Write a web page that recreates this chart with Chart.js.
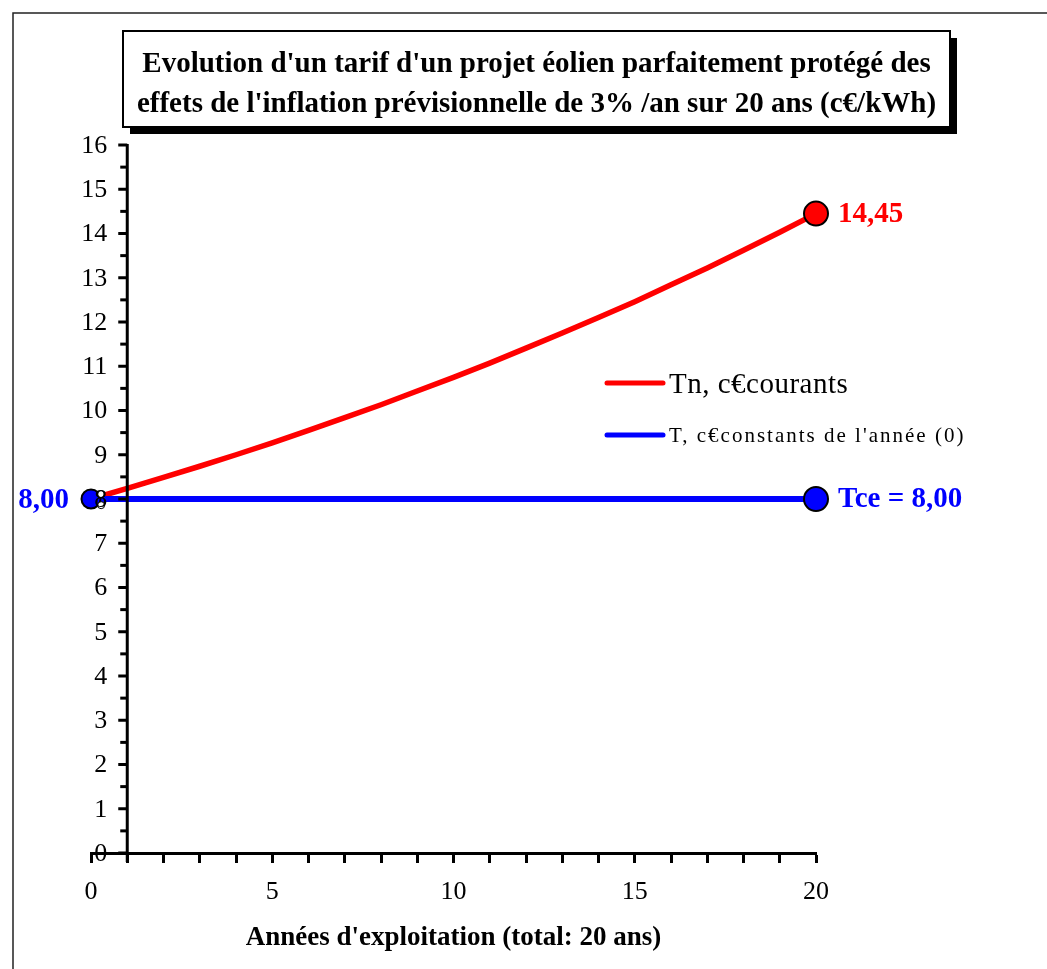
<!DOCTYPE html>
<html lang="fr">
<head>
<meta charset="utf-8">
<title>Evolution d'un tarif éolien</title>
<script src="https://cdn.jsdelivr.net/npm/chart.js@4.4.1/dist/chart.umd.min.js"></script>
<style>
  html, body { margin: 0; padding: 0; background: #fff; }
  #wrap { width: 1047px; height: 969px; position: relative; }
</style>
</head>
<body>
<div id="wrap"><canvas id="chart" width="1047" height="969"></canvas></div>
<script>
// Years of operation
const years = [0, 1, 2, 3, 4, 5, 6, 7, 8, 9, 10, 11, 12, 13, 14, 15, 16, 17, 18, 19, 20];
// Tariff in current c€ (indexed on 3%/yr inflation)
const tnValues = [8.00, 8.24, 8.49, 8.74, 9.00, 9.27, 9.55, 9.84, 10.13, 10.44, 10.75,
                  11.07, 11.41, 11.75, 12.10, 12.46, 12.84, 13.22, 13.62, 14.03, 14.45];
// Tariff in constant c€ of year 0
const tceValues = [8.00, 8.00, 8.00, 8.00, 8.00, 8.00, 8.00, 8.00, 8.00, 8.00, 8.00,
                   8.00, 8.00, 8.00, 8.00, 8.00, 8.00, 8.00, 8.00, 8.00, 8.00];
// Small start markers next to year 0
const startMarkX = [0.28, 0.28];
const startMarkY = [8.11, 7.86];

const xTickLabels = ['0', '5', '10', '15', '20'];
const yTickLabels = ['0', '1', '2', '3', '4', '5', '6', '7', '8', '9', '10', '11', '12', '13', '14', '15', '16'];
const seriesNames = ['Tn, c€courants', "T, c€constants de l'année (0)"];
const titleLines = [
  "Evolution d'un tarif d'un projet éolien parfaitement protégé des",
  "effets de l'inflation prévisionnelle de 3% /an sur 20 ans (c€/kWh)"
];
const xAxisTitle = "Années d'exploitation (total: 20 ans)";
const yAxisCrossAt = 1;   // x value where the vertical axis is drawn

const SERIF = "'Liberation Serif', 'Times New Roman', serif";
const RED = '#ff0000';
const BLUE = '#0000ff';

const fmt = v => v.toFixed(2).replace('.', ',');

function drawText(ctx, text, x, y, font, color, align, baseline, spacing) {
  ctx.save();
  ctx.font = font;
  ctx.fillStyle = color;
  ctx.textAlign = align;
  ctx.textBaseline = baseline;
  if (spacing) ctx.letterSpacing = spacing + 'px';
  ctx.fillText(text, x, y);
  ctx.restore();
}

// White page with the thin outer frame
const framePlugin = {
  id: 'frame',
  beforeDraw(chart) {
    const { ctx, width, height } = chart;
    ctx.save();
    ctx.fillStyle = '#fff';
    ctx.fillRect(0, 0, width, height);
    ctx.strokeStyle = '#222';
    ctx.lineWidth = 1.5;
    ctx.beginPath();
    ctx.moveTo(13, height + 5);
    ctx.lineTo(13, 13);
    ctx.lineTo(width + 5, 13);
    ctx.stroke();
    ctx.restore();
  }
};

// Boxed title with drop shadow
const titlePlugin = {
  id: 'boxTitle',
  afterDraw(chart) {
    const { ctx } = chart;
    const bx = 123, by = 31, bw = 827, bh = 96;
    ctx.save();
    ctx.fillStyle = '#000';
    ctx.fillRect(bx + 7, by + 7, bw, bh);
    ctx.fillStyle = '#fff';
    ctx.fillRect(bx, by, bw, bh);
    ctx.strokeStyle = '#000';
    ctx.lineWidth = 2;
    ctx.strokeRect(bx, by, bw, bh);
    ctx.restore();
    const cx = bx + bw / 2;
    drawText(ctx, titleLines[0], cx, 72, 'bold 29px ' + SERIF, '#000', 'center', 'alphabetic');
    drawText(ctx, titleLines[1], cx, 112, 'bold 29px ' + SERIF, '#000', 'center', 'alphabetic');
  }
};

// Vertical axis drawn where x = yAxisCrossAt, ticks every 0.5
const yAxisPlugin = {
  id: 'yAxisAt',
  afterDatasetsDraw(chart) {
    const { ctx, scales: { x, y } } = chart;
    const px = x.getPixelForValue(yAxisCrossAt);
    const top = y.getPixelForValue(y.max);
    const bottom = y.getPixelForValue(y.min);
    ctx.save();
    ctx.strokeStyle = '#000';
    ctx.lineWidth = 3;
    ctx.beginPath();
    ctx.moveTo(px, top - 1);
    ctx.lineTo(px, bottom + 9);
    ctx.stroke();
    y.ticks.forEach(t => {
      const py = y.getPixelForValue(t.value);
      const major = Number.isInteger(t.value);
      ctx.beginPath();
      ctx.moveTo(px, py);
      ctx.lineTo(px - (major ? 9 : 7), py);
      ctx.stroke();
    });
    ctx.restore();
    y.ticks.forEach(t => {
      const lbl = String(t.value);
      if (yTickLabels.includes(lbl)) {
        drawText(ctx, lbl, px - 20, y.getPixelForValue(t.value) + 1, '26px ' + SERIF, '#000', 'right', 'middle');
      }
    });
  }
};

// Value labels at the ends of the series
const endLabelsPlugin = {
  id: 'endLabels',
  afterDatasetsDraw(chart) {
    const { ctx } = chart;
    const redPts = chart.getDatasetMeta(0).data;
    const bluePts = chart.getDatasetMeta(1).data;
    const rEnd = redPts[redPts.length - 1];
    const bEnd = bluePts[bluePts.length - 1];
    const bStart = bluePts[0];
    const f = 'bold 29px ' + SERIF;
    drawText(ctx, fmt(tnValues[tnValues.length - 1]), rEnd.x + 22, rEnd.y + 1, f, RED, 'left', 'middle');
    drawText(ctx, 'Tce = ' + fmt(tceValues[tceValues.length - 1]), bEnd.x + 22, bEnd.y + 1, f, BLUE, 'left', 'middle');
    drawText(ctx, fmt(tceValues[0]), bStart.x - 22, bStart.y + 2, f, BLUE, 'right', 'middle');
  }
};

// Legend inside the plot
const legendPlugin = {
  id: 'innerLegend',
  afterDatasetsDraw(chart) {
    const { ctx } = chart;
    const rows = [
      { color: RED, y: 383, base: 393, font: '29px ' + SERIF, sp: 0.5 },
      { color: BLUE, y: 435, base: 442, font: '21px ' + SERIF, sp: 2 }
    ];
    rows.forEach((r, i) => {
      ctx.save();
      ctx.strokeStyle = r.color;
      ctx.lineWidth = 5;
      ctx.lineCap = 'round';
      ctx.beginPath();
      ctx.moveTo(607, r.y);
      ctx.lineTo(663, r.y);
      ctx.stroke();
      ctx.restore();
      drawText(ctx, seriesNames[i], 669, r.base, r.font, '#000', 'left', 'alphabetic', r.sp);
    });
  }
};

const toPts = (xs, ys) => xs.map((v, i) => ({ x: v, y: ys[i] }));
const lastOnly = (n, r) => Array.from({ length: n }, (_, i) => (i === n - 1 ? r : 0));

new Chart(document.getElementById('chart'), {
  type: 'line',
  data: {
    datasets: [
      {
        label: seriesNames[0],
        data: toPts(years, tnValues),
        borderColor: RED,
        borderWidth: 5.5,
        tension: 0,
        clip: false,
        pointRadius: lastOnly(years.length, 12),
        pointBackgroundColor: RED,
        pointBorderColor: '#000',
        pointBorderWidth: 2,
        order: 2
      },
      {
        label: seriesNames[1],
        data: toPts(years, tceValues),
        borderColor: BLUE,
        borderWidth: 6,
        tension: 0,
        clip: false,
        pointRadius: years.map((_, i) => (i === 0 ? 9.5 : (i === years.length - 1 ? 12 : 0))),
        pointBackgroundColor: BLUE,
        pointBorderColor: '#000',
        pointBorderWidth: 2,
        order: 1
      },
      {
        label: 'start',
        data: toPts(startMarkX, startMarkY),
        showLine: false,
        clip: false,
        pointRadius: 3.5,
        pointBackgroundColor: '#fff',
        pointBorderColor: '#000',
        pointBorderWidth: 1,
        order: 0
      }
    ]
  },
  options: {
    responsive: false,
    animation: false,
    events: [],
    layout: { padding: { left: 91, right: 231, top: 145, bottom: 14.4 } },
    plugins: { legend: { display: false }, tooltip: { enabled: false }, title: { display: false } },
    scales: {
      x: {
        type: 'linear',
        position: 'bottom',
        min: 0,
        max: 20,
        border: { display: true, color: '#000', width: 3 },
        grid: { display: true, drawOnChartArea: false, drawTicks: true, tickLength: 10, tickWidth: 3, tickColor: '#000' },
        ticks: {
          stepSize: 1,
          autoSkip: false,
          maxRotation: 0,
          padding: 14,
          color: '#000',
          font: { family: SERIF, size: 26 },
          callback: v => (xTickLabels.includes(String(v)) ? String(v) : '')
        },
        title: {
          display: true,
          text: xAxisTitle,
          color: '#000',
          font: { family: SERIF, size: 27, weight: 'bold' },
          padding: { top: 0, bottom: 0 }
        }
      },
      y: {
        type: 'linear',
        display: false,
        min: 0,
        max: 16,
        ticks: { stepSize: 0.5 }
      }
    }
  },
  plugins: [framePlugin, titlePlugin, yAxisPlugin, endLabelsPlugin, legendPlugin]
});
</script>
</body>
</html>
